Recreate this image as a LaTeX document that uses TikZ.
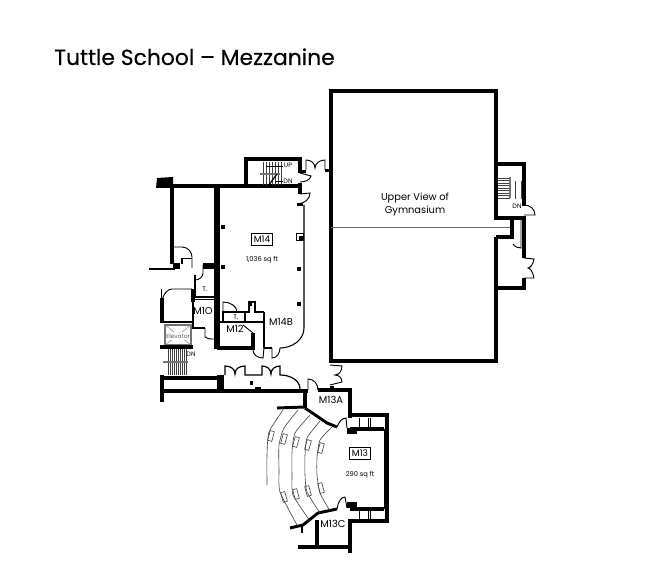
\documentclass[tikz,border=0pt]{standalone}
\usepackage{fontspec}
\setmainfont{Poppins}
\newfontfamily\titlefont[FakeBold=0.35]{Poppins}
\tikzset{
 wallthick/.style={draw=black,line width=3.4pt,line cap=butt,line join=miter},
 wallmid/.style={draw=black,line width=2.5pt,line join=miter},
 wallthin/.style={draw=black,line width=1.4pt,line join=miter},
 thinline/.style={draw=black,line width=0.7pt},
 hair/.style={draw=black!75,line width=0.45pt},
 blockfill/.style={fill=black,draw=none},
 tread/.style={draw=black!75,line width=0.5pt},
 greybar/.style={draw=black!55,line width=1.5pt},
 roomlabel/.style={inner sep=0pt,font=\fontsize{7.4pt}{8pt}\selectfont},
 smalllabel/.style={inner sep=0pt,font=\fontsize{5pt}{6pt}\selectfont},
 tinylabel/.style={inner sep=0pt,font=\fontsize{4.8pt}{5pt}\selectfont},
 tagbox/.style={draw=black,line width=0.5pt,inner sep=0pt,minimum width=15.5pt,minimum height=9pt,font=\fontsize{6.8pt}{8pt}\selectfont},
 seat/.style={draw=black!75,line width=0.45pt,minimum width=3.2pt,minimum height=7.5pt,inner sep=0pt},
}
\begin{document}
\begin{tikzpicture}[x=0.75pt,y=-0.75pt]
\useasboundingbox (0,0) rectangle (668,588);
\node[anchor=base west,inner sep=0pt,font=\titlefont\fontsize{16.4pt}{20pt}\selectfont] (title) at (54,65) {Tuttle School – Mezzanine};

% Gymnasium
\draw[wallthick,line width=2.6pt] (496,164) -- (496,91) -- (331,91) -- (331,361) -- (496,361) -- (496,237);
\draw[hair,draw=black!60] (331,227) -- (511,227);
\node[roomlabel] (gymA) at (415,198) {Upper View of};
\node[roomlabel] (gymB) at (415,211) {Gymnasium};
% East annex
\draw[wallmid] (496,164) -- (524,164) -- (524,206);
\draw[wallmid] (496,164) -- (496,218) -- (524,218) -- (524,258);
\draw[wallmid] (524,278) -- (524,288) -- (496,288);
\draw[wallmid] (496,237) -- (512,237) -- (512,218);
\draw[thinline] (524,205) .. controls (530,205) and (535,209) .. (535,215) -- (524,215);
\draw[thinline] (521,218) -- (521,248) .. controls (518,248) and (515,247) .. (513,244);
\draw[thinline] (524,258) -- (534,259) .. controls (533,265) and (530,268) .. (528,268) .. controls (530,268) and (533,272) .. (534,278) -- (524,278);
\foreach \yy in {178,180.5,...,198} \draw[tread] (498,\yy) -- (510,\yy);
\draw[greybar,line width=1pt] (510,177) -- (510,198);
\draw[tread] (515,181) -- (515,199);
\draw[tread] (521,181) -- (521,199);
\node[tinylabel] (dnE) at (517,206) {DN};

% North stair and doors
\draw[wallthick] (172,186) -- (300,186);
\draw[wallmid] (246,186) -- (246,159) -- (300,159) -- (300,172);
\draw[wallmid] (300,183) -- (300,194);
\fill[blockfill] (298,170) rectangle (306,173);
\fill[blockfill] (325,169) rectangle (332,172);
\fill[blockfill] (297,203) rectangle (303,206);
\draw[thinline] (300,173) -- (311,176) .. controls (310,180) and (305,182) .. (300,182);
\draw[thinline] (300,194) -- (310,193) .. controls (310,199) and (305,203) .. (298,204);
\draw[thinline] (306,170) -- (306,160) .. controls (311,160) and (315,163) .. (315,168) .. controls (315,163) and (320,160) .. (325,160) -- (325,170);
\foreach \xx in {263,266,...,281} \draw[tread] (\xx,162) -- (\xx,185);
\draw[thinline] (266,166) -- (283,166);
\draw[greybar] (260,174) -- (280,174);
\draw[thinline] (275,181) -- (283,181);
\draw[wallthin,line width=0.9pt] (268,186) -- (277,174);
\node[tinylabel] (up) at (288,165) {UP};
\node[tinylabel] (dnN) at (288,181) {DN};

% M14 and west walls
\fill[blockfill] (157,178) -- (173,177) -- (173,188) -- (156,188) -- cycle;
\draw[wallthick,line width=3.2pt] (172,186) -- (172,264);
\draw[wallthick,line width=3.8pt] (217,186) -- (217,349);
\foreach \xx/\yy in {223/227,223/267,299/269,299/304,250/304}
  \fill[blockfill] (\xx-1.8,\yy-1.8) rectangle (\xx+1.8,\yy+1.8);
\draw[wallthin,line width=0.8pt] (304,205) -- (304,328) .. controls (304,340) and (292,348) .. (280,348);
\draw[wallthin,line width=0.8pt] (264,348) -- (272,348);
\draw[thinline] (272,348) -- (272,358) .. controls (277,358) and (280,353) .. (280,348);
\draw[thinline] (296,233) rectangle (303,240);
\fill[blockfill] (299,236) rectangle (303,240);
\node[tagbox] (m14) at (262,239) {M14};
\node[smalllabel] (a14) at (262,260) {1,036 sq ft};
\node[roomlabel] (m14b) at (281,322) {M14B};

% M12 and T
\draw[wallthin] (219,322) -- (264,322);
\draw[wallthin] (264,312) -- (264,348);
\draw[wallmid] (217,348) -- (253,348) -- (253,333);
\draw[thinline] (243,325) -- (253,333);
\draw[thinline] (253,333) -- (253,350) .. controls (253,355) and (258,358) .. (263,358) -- (264,348);
\draw[wallthin,line width=0.9pt] (223,322) -- (223,312) -- (245,312) -- (245,322);
\draw[thinline] (223,312) -- (223,302) .. controls (230,302) and (237,306) .. (237,312);
\draw[wallthin,line width=0.9pt] (245,312) -- (249,312) -- (249,302) -- (255,302) -- (255,312) -- (264,312);
\node[roomlabel] (m12) at (235,329) {M12};
\node[smalllabel] (t2) at (236,317) {T.};

% M10 and upper T
\draw[wallthick,line width=2.6pt] (193,289) -- (193,302);
\draw[wallthin] (193,302) -- (193,328) -- (205,328);
\draw[wallthin] (195,275) -- (195,298);
\draw[wallthin] (195,297) -- (217,297);
\draw[wallthin,line width=0.9pt] (195,299.5) -- (217,299.5);
\draw[thinline] (205,328) -- (205,337) .. controls (207,339) and (210,339) .. (214,339);
\draw[thinline] (203,265) -- (203,273) .. controls (203,277) and (199,280) .. (195,280);
\node[roomlabel] (m10) at (203,311) {M1O};
\node[smalllabel] (t1) at (205,289) {T.};

% NW small rooms
\fill[blockfill] (173,263) rectangle (180,269);
\fill[blockfill] (203,263) rectangle (215,269);
\draw[wallthin,line width=0.9pt] (149,269) -- (175,269);
\draw[thinline] (172,247) -- (182,247) .. controls (188,247) and (192,252) .. (192,257) -- (192,268);
\draw[thinline] (182,258) -- (192,258);
\draw[wallthin,line width=0.9pt] (182,258) -- (182,264);

% Elevator block
\draw[wallthick,line width=3pt] (162,298) -- (162,323);
\draw[thinline] (161,289) -- (161,298);
\draw[thinline] (162,300) .. controls (164,293) and (168,289) .. (172,289) -- (192,289);
\draw[wallthin] (164,322) -- (193,322);
\draw[draw=black!55,line width=1pt] (165,325) rectangle (191,345);
\draw[draw=black!45,line width=0.4pt] (165,325) -- (191,345) (191,325) -- (165,345);
\fill[white] (166,332) rectangle (190,340);
\node[inner sep=0pt,text=black!65,font=\fontsize{4.4pt}{5pt}\selectfont] (elev) at (178,336) {Elevator};
\draw[wallthick,line width=3pt] (160,347) -- (193,347);
\foreach \xx in {168,170,...,186} \draw[tread] (\xx,349) -- (\xx,375);
\draw[greybar] (163,362) -- (188,362);
\node[tinylabel] (dnW) at (191,354) {DN};

% South corridor
\draw[wallthick,line width=3pt] (162,378) -- (223,378);
\draw[wallthick,line width=3pt] (162,375) -- (162,402);
\fill[blockfill] (217,375) rectangle (224,390);
\draw[wallthick,line width=3.4pt] (162,391) -- (308,391);
\draw[wallthin,line width=0.9pt] (225,375) -- (225,366) .. controls (231,366) and (235,369) .. (235,374) .. controls (235,369) and (239,366) .. (245,366) -- (245,375) -- (262,375) -- (262,366) .. controls (267,366) and (271,369) .. (271,374) .. controls (271,369) and (275,366) .. (280,366) -- (280,375) .. controls (290,375) and (300,380) .. (300,389);
\fill[blockfill] (250,381) rectangle (253,385);
\fill[blockfill] (255,387) rectangle (261,391);

% M13A
\draw[thinline] (308,390) -- (308,379) .. controls (314,379) and (318,384) .. (318,390);
\draw[wallthick,line width=2.8pt] (318,390) -- (350,390) -- (350,418);
\draw[wallthick,line width=2.8pt] (305,390) -- (305,408);
\draw[wallthick,line width=2.2pt] (305,408) -- (327,423) -- (337,427);
\draw[wallthick,line width=2.2pt] (277,408) -- (305,407);
\fill[blockfill] (330,386) rectangle (334,390);
\draw[thinline] (330,365) -- (342,366) .. controls (342,371) and (339,375) .. (335,375) .. controls (339,375) and (342,378) .. (342,382) -- (330,385);
\node[roomlabel] (m13a) at (331,400) {M13A};

% M13
\draw[wallthick,line width=2.8pt] (350,415) -- (387,415) -- (387,521) -- (350,521) -- (350,553);
\draw[wallmid] (350,429) -- (384,429);
\draw[wallmid] (350,509) -- (384,509);
\fill[blockfill] (347,428) rectangle (357,434);
\fill[blockfill] (347,502) rectangle (357,508);
\draw[thinline] (384,429) -- (384,509);
\foreach \xx in {359,368,370} {
  \draw[thinline] (\xx,418) -- (\xx,427);
  \draw[thinline] (\xx,511) -- (\xx,519);
}
\draw[thinline] (337,427) .. controls (339,422) and (342,418) .. (346,418) -- (347,428);
\draw[thinline] (337,509) .. controls (338,502) and (341,497) .. (345,497) -- (347,508);
\draw[wallthick,line width=2.2pt] (337,509) -- (318,513) -- (303,525) -- (290,528);
\draw[wallthin] (302,525) -- (302,533);
\draw[wallmid] (317,520) -- (317,547);
\draw[wallthick,line width=2.4pt] (298,547) -- (350,547);
\node[tagbox] (m13) at (360,453) {M13};
\node[smalllabel] (a13) at (360,475) {290 sq ft};
\node[roomlabel] (m13c) at (333,524) {M13C};

% Seating rows
\draw[hair] plot[smooth,tension=0.35] coordinates {(283,410) (269,432) (267,455) (267,485)};
\draw[hair] plot[smooth,tension=0.35] coordinates {(298,410) (284,428) (279,445) (279,470) (280,492) (297,525)};
\draw[hair] plot[smooth,tension=0.35] coordinates {(310,415) (295,433) (292,452) (292,475) (293,495) (310,521)};
\draw[hair] plot[smooth,tension=0.35] coordinates {(320,421) (307,438) (305,455) (305,475) (307,492) (320,513)};
\draw[hair] plot[smooth,tension=0.35] coordinates {(332,427) (320,440) (317,458) (317,475) (320,493) (330,511)};
\foreach \xx/\yy/\aa in {271/436/-15,284/439/-15,296/442/-15,308/445/-15,321/448/-15,284/497/15,296/494/15,308/491/15,321/488/15}
  \node[seat,rotate=\aa] at (\xx,\yy) {};
\end{tikzpicture}
\end{document}
